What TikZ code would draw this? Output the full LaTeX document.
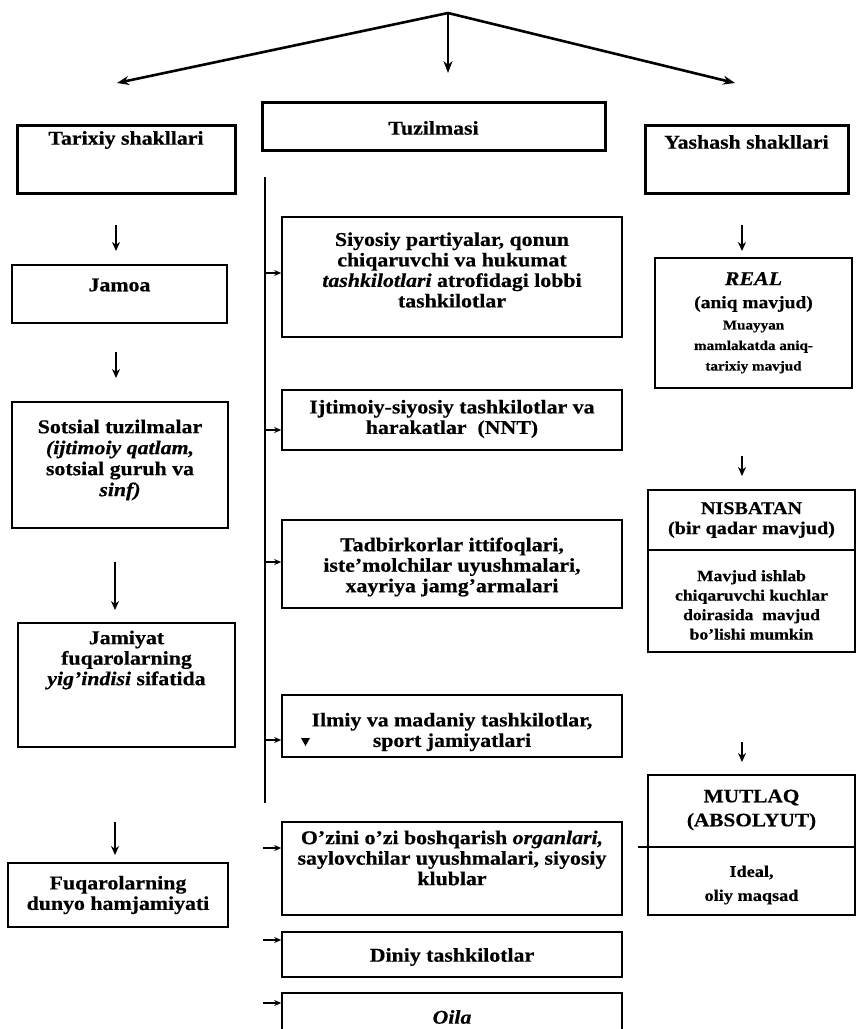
\documentclass[tikz,border=0pt]{standalone}
\usepackage{fontspec}
\setmainfont{Liberation Serif}[FakeStretch=1.12,
  BoldFeatures={FakeBold=0.5}, BoldItalicFeatures={FakeBold=0.5}]
\usetikzlibrary{arrows.meta}
\begin{document}
\begin{tikzpicture}[x=1pt,y=-1pt,
  box/.style={draw, line width=1.6pt, inner sep=0pt},
  hbox/.style={box, line width=3pt},
  txt/.style={align=center, inner sep=0pt, font=\bfseries\fontsize{19.5}{20.5}\selectfont},
  toparr/.style={-{Stealth[length=12pt,width=9pt]}, line width=2.6pt},
  varr/.style={-{Stealth[length=9pt,width=8pt]}, line width=2.6pt},
  harr/.style={-{Stealth[length=7pt,width=6pt]}, line width=1.5pt},
  bus/.style={line width=2.8pt}]
\fill[white] (0,0) rectangle (860,1029);
\useasboundingbox (0,0) rectangle (860,1029);
\clip (0,0) rectangle (860,1029);

% ---------- top arrows ----------
\coordinate (apex) at (448,13);
\coordinate (tl) at (117,83);
\coordinate (tc) at (448,73);
\coordinate (tr) at (735,83);
\draw[toparr] (apex) -- (tl);
\draw[toparr] (apex) -- (tc);
\draw[toparr] (apex) -- (tr);

% ---------- head boxes ----------
\node[hbox, minimum width=218pt, minimum height=68pt] (tarixiy) at (126,159) {};
\node[txt] (tarixiyT) at (126,140) {Tarixiy shakllari};
\node[hbox, minimum width=343pt, minimum height=48pt] (tuz) at (433.5,126) {};
\node[txt] (tuzT) at (433.5,128) {Tuzilmasi};
\node[hbox, minimum width=203pt, minimum height=68pt] (yashash) at (746.5,159) {};
\node[txt] (yashashT) at (746.5,142) {Yashash shakllari};

% ---------- left column ----------
\node[box, minimum width=215pt, minimum height=58pt] (jamoa) at (119.5,294) {};
\node[txt] (jamoaT) at (119.5,285) {Jamoa};
\node[box, minimum width=216pt, minimum height=126pt] (sotsial) at (120,465) {};
\node[txt, font=\bfseries\fontsize{19.5}{21}\selectfont] (sotsialT) at (120,460)
  {Sotsial tuzilmalar\\\textit{(ijtimoiy qatlam,}\\sotsial guruh va\\\textit{sinf)}};
\node[box, minimum width=217pt, minimum height=124pt] (jamiyat) at (126.5,685) {};
\node[txt] (jamiyatT) at (126.5,660) {Jamiyat\\fuqarolarning\\\textit{yig’indisi} sifatida};
\node[box, minimum width=220pt, minimum height=64pt] (fuqaro) at (118,895) {};
\node[txt] (fuqaroT) at (118,895) {Fuqarolarning\\dunyo hamjamiyati};

\coordinate (l1a) at (116,225); \coordinate (l1b) at (116,251);
\coordinate (l2a) at (116,352); \coordinate (l2b) at (116,378);
\coordinate (l3a) at (115,562); \coordinate (l3b) at (115,610);
\coordinate (l4a) at (115,822); \coordinate (l4b) at (115,855);
\draw[varr] (l1a) -- (l1b);
\draw[varr] (l2a) -- (l2b);
\draw[varr] (l3a) -- (l3b);
\draw[varr] (l4a) -- (l4b);

% ---------- middle column ----------
\node[box, minimum width=340pt, minimum height=120pt] (siyosiy) at (452,277) {};
\node[txt] (siyosiyT) at (452,270)
  {Siyosiy partiyalar, qonun\\chiqaruvchi va hukumat\\\textit{tashkilotlari} atrofidagi lobbi\\tashkilotlar};
\node[box, minimum width=340pt, minimum height=60pt] (ijtimoiy) at (452,420) {};
\node[txt] (ijtimoiyT) at (452,419) {Ijtimoiy-siyosiy tashkilotlar va\\harakatlar\ \ (NNT)};
\node[box, minimum width=340pt, minimum height=88pt] (tadbir) at (452,564) {};
\node[txt] (tadbirT) at (452,567)
  {Tadbirkorlar ittifoqlari,\\iste’molchilar uyushmalari,\\xayriya jamg’armalari};
\node[box, minimum width=340pt, minimum height=62pt] (ilmiy) at (452,726) {};
\node[txt] (ilmiyT) at (452,732) {Ilmiy va madaniy tashkilotlar,\\sport jamiyatlari};
\fill (301,738) -- (310,738) -- (305.5,746) -- cycle;
\node[box, minimum width=340pt, minimum height=93pt] (ozini) at (452,868.5) {};
\node[txt] (oziniT) at (452,858)
  {O’zini o’zi boshqarish \textit{organlari,}\\saylovchilar uyushmalari, siyosiy\\klublar};
\node[box, minimum width=340pt, minimum height=45pt] (diniy) at (452,954.5) {};
\node[txt] (diniyT) at (452,957) {Diniy tashkilotlar};
\node[box, minimum width=340pt, minimum height=56pt] (oila) at (452,1021) {};
\node[txt] (oilaT) at (452,1017) {\textit{Oila}};

% bus
\coordinate (bustop) at (265,177);
\coordinate (busbot) at (265,803);
\draw[bus] (bustop) -- (busbot);
\coordinate (b1) at (265,273);
\coordinate (b2) at (265,430);
\coordinate (b3) at (265,562);
\coordinate (b4) at (265,740);
\coordinate (b5) at (263,848);
\coordinate (b6) at (263,940);
\coordinate (b7) at (263,1003);
\draw[harr] (b1) -- (siyosiy.west |- b1);
\draw[harr] (b2) -- (ijtimoiy.west |- b2);
\draw[harr] (b3) -- (tadbir.west |- b3);
\draw[harr] (b4) -- (ilmiy.west |- b4);
\draw[harr] (b5) -- (ozini.west |- b5);
\draw[harr] (b6) -- (diniy.west |- b6);
\draw[harr] (b7) -- (oila.west |- b7);

% ---------- right column ----------
\node[box, minimum width=197pt, minimum height=130pt] (real) at (753.5,323) {};
\node[txt, font=\bfseries\fontsize{17.4}{23}\selectfont] (realA) at (753.5,292)
  {{\fontsize{19.6}{19.6}\selectfont\textit{REAL}}\\(aniq mavjud)};
\node[txt, font=\bfseries\fontsize{13.5}{20.5}\selectfont] (realB) at (753.5,347)
  {Muayyan\\mamlakatda aniq-\\tarixiy mavjud};

\node[box, minimum width=207pt, minimum height=162pt] (nisb) at (751.5,571) {};
\node[txt, font=\bfseries\fontsize{18}{20}\selectfont] (nisbA) at (751.5,520)
  {NISBATAN\\(bir qadar mavjud)};
\node[txt, font=\bfseries\fontsize{15.7}{19.5}\selectfont] (nisbB) at (751.5,605)
  {Mavjud ishlab\\chiqaruvchi kuchlar\\doirasida\ \ mavjud\\bo’lishi mumkin};
\coordinate (nd1) at (648,550);
\coordinate (nd2) at (855,550);
\draw[line width=1.6pt] (nd1) -- (nd2);

\node[box, minimum width=207pt, minimum height=140pt] (mutlaq) at (751.5,845) {};
\node[txt, font=\bfseries\fontsize{19}{24}\selectfont] (mutA) at (751.5,810)
  {MUTLAQ\\(ABSOLYUT)};
\node[txt, font=\bfseries\fontsize{16.3}{24}\selectfont] (mutB) at (751.5,885)
  {Ideal,\\oliy maqsad};
\coordinate (md1) at (638,847);
\coordinate (md2) at (855,847);
\draw[line width=1.6pt] (md1) -- (md2);

\coordinate (r1a) at (742,225); \coordinate (r1b) at (742,251);
\coordinate (r2a) at (742,456); \coordinate (r2b) at (742,476);
\coordinate (r3a) at (742,742); \coordinate (r3b) at (742,762);
\draw[varr] (r1a) -- (r1b);
\draw[varr] (r2a) -- (r2b);
\draw[varr] (r3a) -- (r3b);
\end{tikzpicture}
\end{document}
